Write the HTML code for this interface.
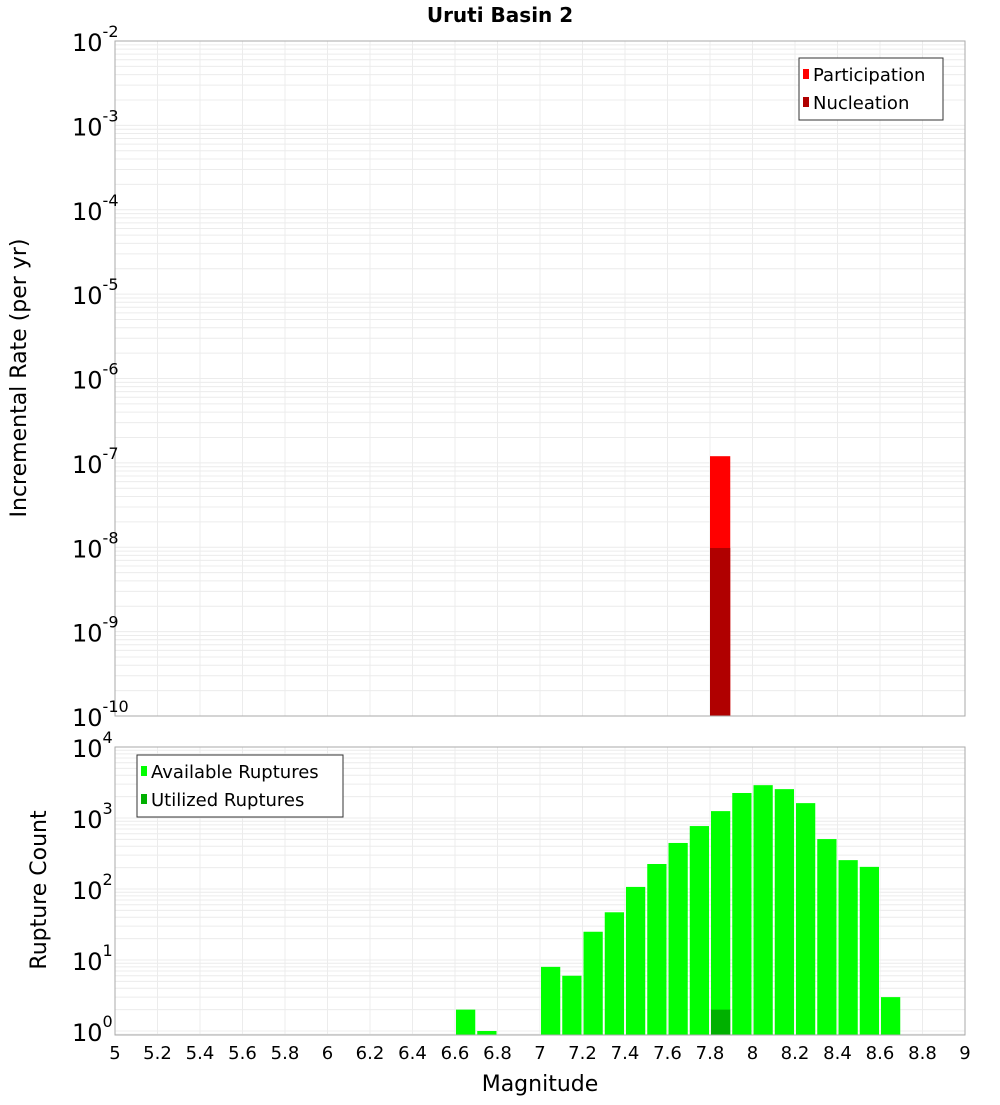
<!DOCTYPE html>
<html><head><meta charset="utf-8"><style>
body{margin:0;background:#fff;font-family:"Liberation Sans","DejaVu Sans",sans-serif}
svg text{font-family:"DejaVu Sans","Liberation Sans",sans-serif}
</style></head><body>
<svg id="c" width="1000" height="1100" xmlns="http://www.w3.org/2000/svg">
<text x="500" y="22" text-anchor="middle" font-size="20" font-weight="bold">Uruti Basin 2</text>
<text transform="translate(26,378) rotate(-90)" text-anchor="middle" font-size="22">Incremental Rate (per yr)</text>
<text transform="translate(46,890) rotate(-90)" text-anchor="middle" font-size="22">Rupture Count</text>
<text x="540" y="1091" text-anchor="middle" font-size="22">Magnitude</text>
</svg>
<script>
const binStarts=[7.8];
const participation=[1.2e-7];
const nucleation=[9.8e-9];
const countBins=[6.6,6.7,7.0,7.1,7.2,7.3,7.4,7.5,7.6,7.7,7.8,7.9,8.0,8.1,8.2,8.3,8.4,8.5,8.6];
const available=[2,1,8,6,25,47,107,225,445,770,1250,2250,2900,2550,1620,505,255,205,3];
const utilizedBins=[7.8];
const utilized=[2];
const xTicks=[5,5.2,5.4,5.6,5.8,6,6.2,6.4,6.6,6.8,7,7.2,7.4,7.6,7.8,8,8.2,8.4,8.6,8.8,9];
const topExps=[-2,-3,-4,-5,-6,-7,-8,-9,-10];
const botExps=[4,3,2,1,0];

const NS="http://www.w3.org/2000/svg";
const svg=document.getElementById('c');
function mk(t,a,p){const e=document.createElementNS(NS,t);for(const k in a)e.setAttribute(k,a[k]);(p||svg).appendChild(e);return e;}
const X0=115,X1=965;
const xs=m=>X0+(m-5)/4*(X1-X0);
const T0=41,T1=716;
const yTop=v=>T0+(-2-Math.log10(v))/8*(T1-T0);
const B0=747,B1=1035,BD=71;
const yBot=v=>B0+(4-Math.log10(v))*BD;

function grid(y0,y1,lo,hi,yf,name){
  const g=mk('g',{});
  
  
  for(let e=lo;e<=hi;e++)for(let k=1;k<10;k++){const y=yf(k*Math.pow(10,e));if(y<y0||y>y1)continue;
    const l=mk('line',{x1:X0,x2:X1,y1:y,y2:y,stroke:'#ececec','stroke-width':1},g);
    
    }
  xTicks.forEach(t=>{const l=mk('line',{x1:xs(t),x2:xs(t),y1:y0,y2:y1,stroke:'#ececec'},g);
    
    });
}
grid(T0,T1,-10,-3,yTop,'top-grid');
grid(B0,B1,-1,3,yBot,'bottom-grid');

// top bars
binStarts.forEach((b,i)=>{
  const r=mk('rect',{x:xs(b),y:yTop(participation[i]),width:xs(b+0.1)-xs(b)-1,height:T1-yTop(participation[i]),fill:'#ff0000'});
  
  
  const n=mk('rect',{x:xs(b),y:yTop(nucleation[i]),width:xs(b+0.1)-xs(b)-1,height:T1-yTop(nucleation[i]),fill:'#b00000'});
  
  
});
// bottom bars
countBins.forEach((b,i)=>{
  const y=yBot(available[i]);
  const r=mk('rect',{x:xs(b)+1,y:y,width:xs(b+0.1)-xs(b)-2,height:B1-y,fill:'#00ff00'});
  
  
});
utilizedBins.forEach((b,i)=>{
  const y=yBot(utilized[i]);
  const r=mk('rect',{x:xs(b)+1,y:y,width:xs(b+0.1)-xs(b)-2,height:B1-y,fill:'#00b000'});
  
  
});
// frames
const f1=mk('rect',{x:X0,y:T0,width:X1-X0,height:T1-T0,fill:'none',stroke:'#aaa'});


const f2=mk('rect',{x:X0,y:B0,width:X1-X0,height:B1-B0,fill:'none',stroke:'#aaa'});


// y labels
function ylab(e,y,name){
  const t=mk('text',{x:72,y:y+10,'font-size':24});
  
  
  t.textContent='10';
  const s=mk('tspan',{dy:-14,'font-size':16},t);s.textContent=String(e);
}
topExps.forEach(e=>ylab(e,yTop(Math.pow(10,e)),'top-y-tick-label'));
botExps.forEach(e=>ylab(e,yBot(Math.pow(10,e)),'bottom-y-tick-label'));
// x labels
xTicks.forEach(t=>{const l=mk('text',{x:xs(t),y:1059,'text-anchor':'middle','font-size':18});
  
  
  l.textContent=String(t);});
// legends
function legend(x,y,w,items,name){
  const g=mk('g',{});
  
  
  mk('rect',{x:x,y:y,width:w,height:items.length*28+6,fill:'#fff',stroke:'#333'},g);
  items.forEach((it,i)=>{
    mk('rect',{x:x+4,y:y+11+i*28,width:6,height:10,fill:it[1]},g);
    const t=mk('text',{x:x+14,y:y+23+i*28,'font-size':18},g);
    
    
    t.textContent=it[0];
  });
}
legend(799,58,144,[['Participation','#ff0000'],['Nucleation','#b00000']],'top-legend');
legend(137,755,206,[['Available Ruptures','#00ff00'],['Utilized Ruptures','#00b000']],'bottom-legend');
</script>
</body></html>
